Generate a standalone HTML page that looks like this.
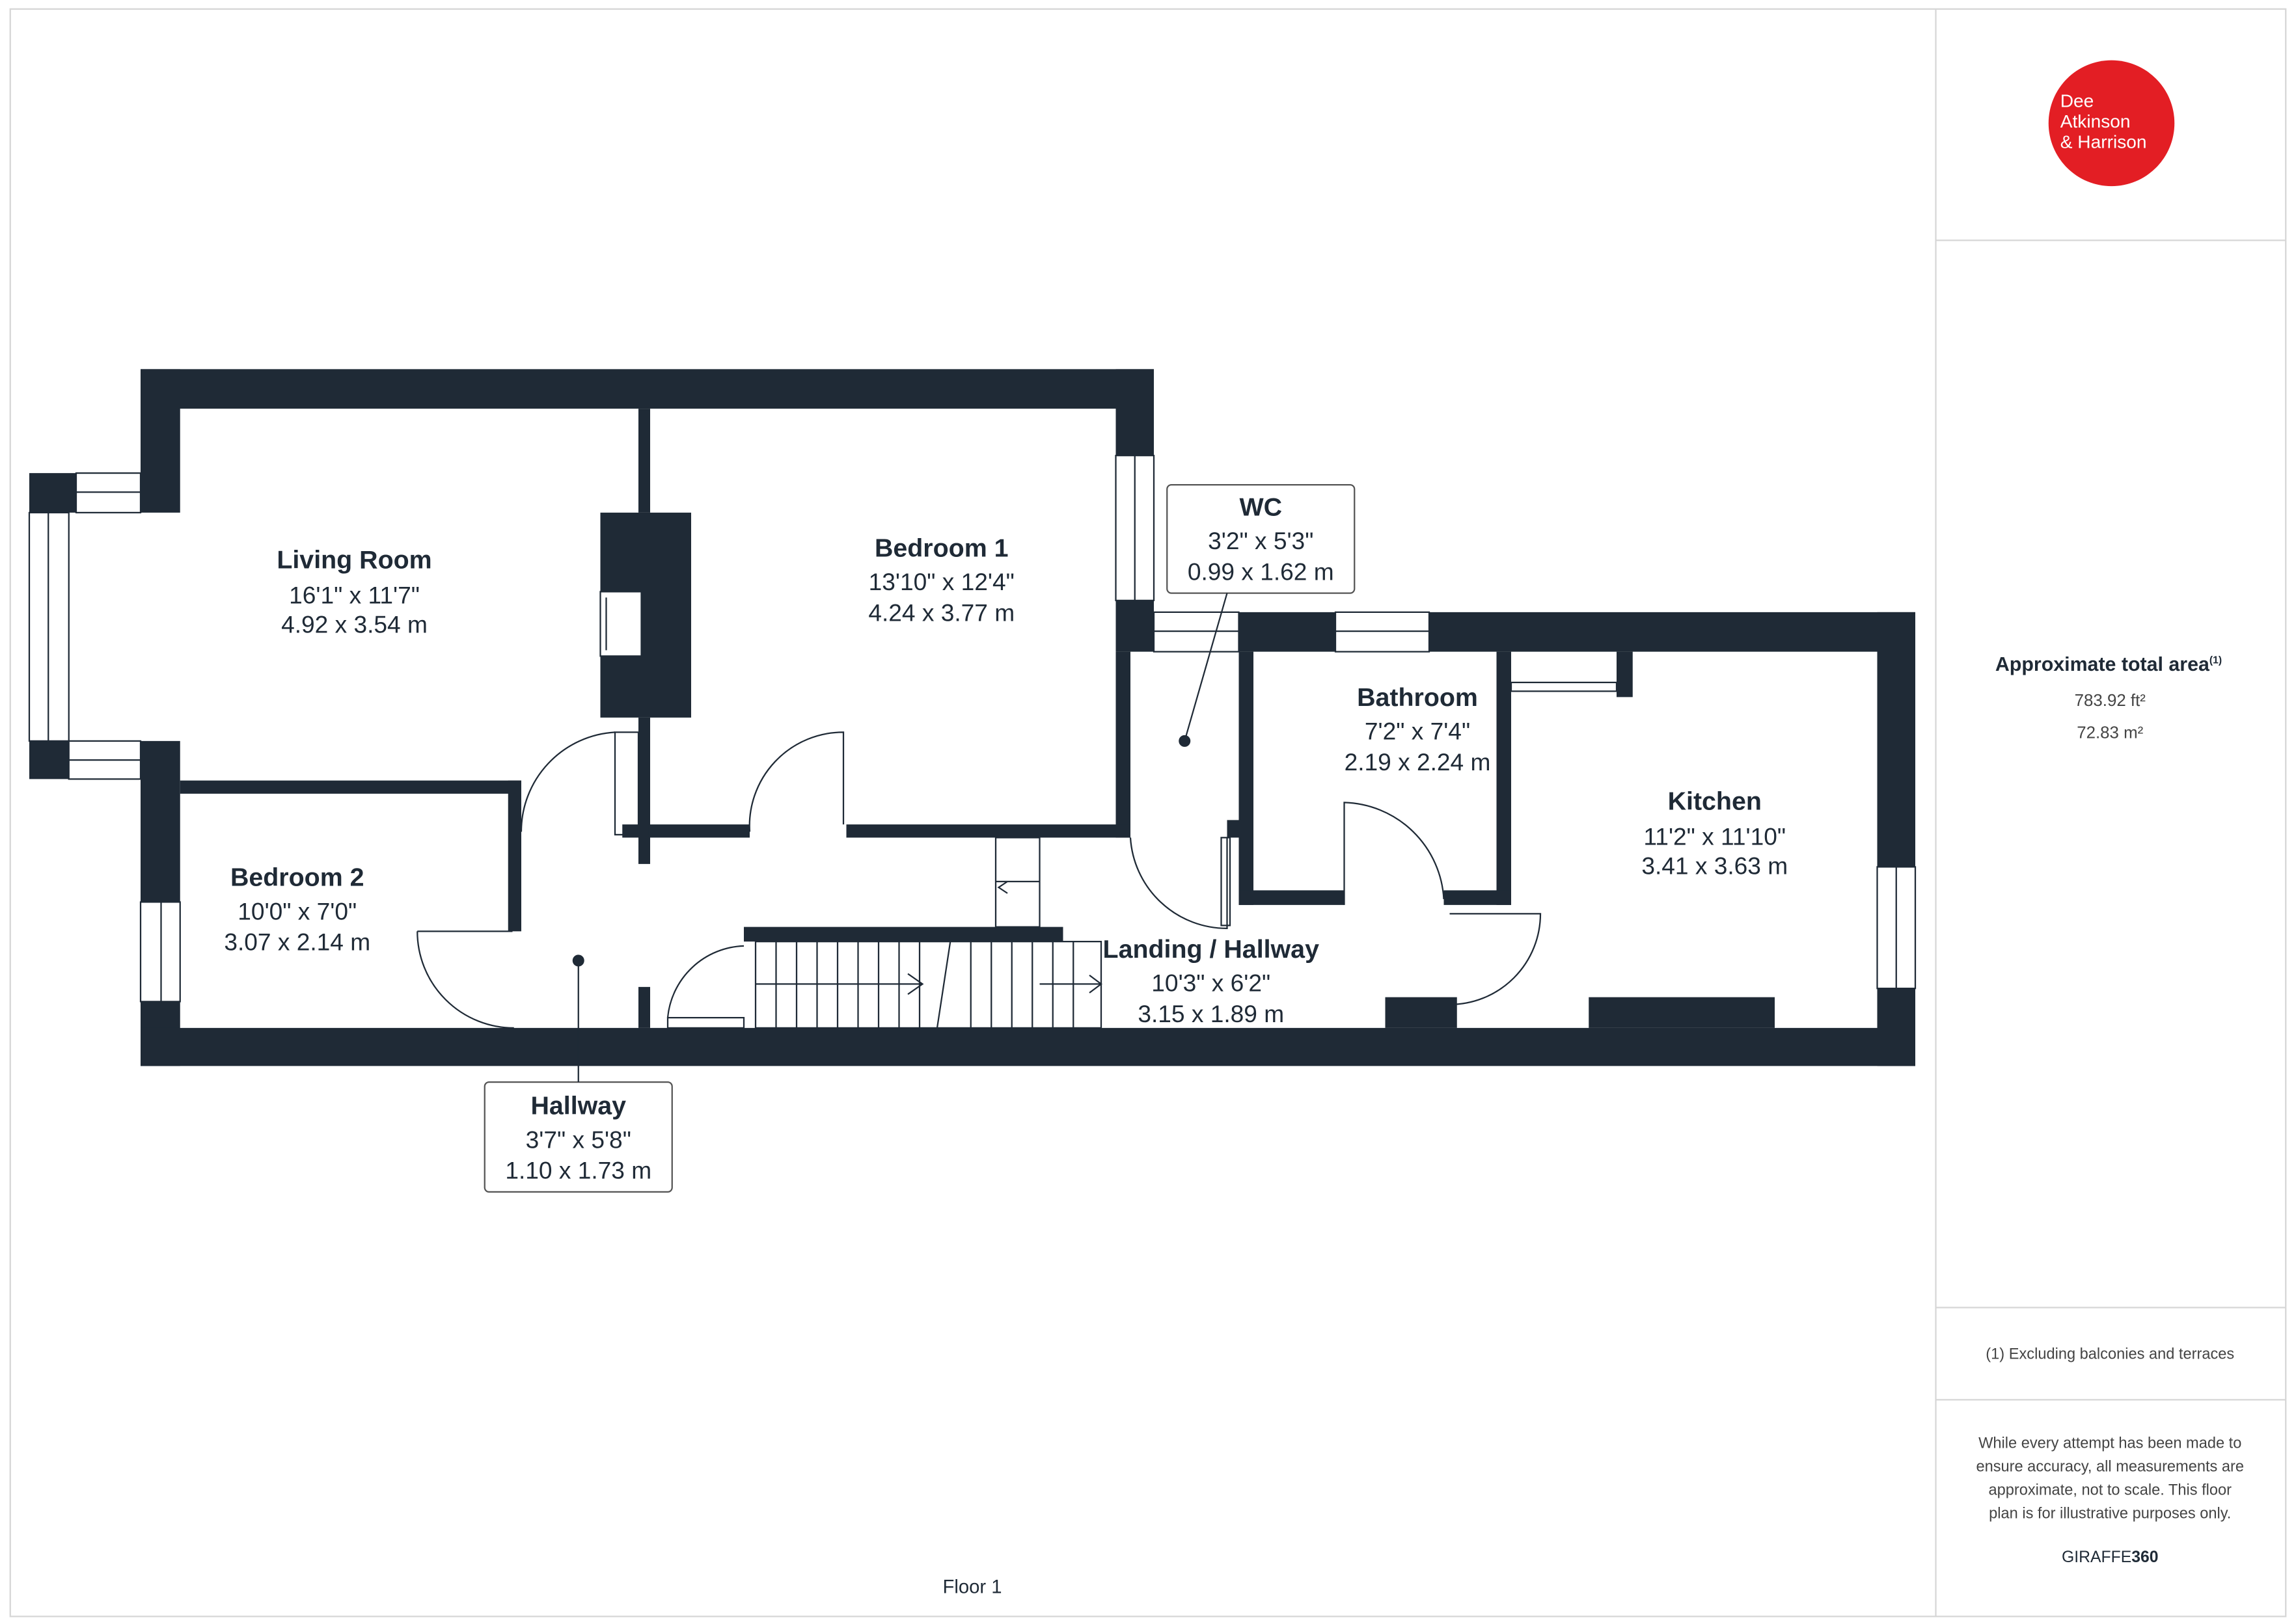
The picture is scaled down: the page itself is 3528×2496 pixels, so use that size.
<!DOCTYPE html>
<html><head><meta charset="utf-8"><style>
html,body{margin:0;padding:0;background:#fff}
svg{display:block}
text{font-family:"Liberation Sans",sans-serif;fill:#1f2a36}
</style></head><body>
<svg width="3528" height="2496" viewBox="0 0 1568 1109" xmlns="http://www.w3.org/2000/svg">
<rect x="0" y="0" width="1568" height="1109" fill="#fff"/>
<rect x="7" y="6" width="1554" height="1098" fill="none" stroke="#d6d6d6" stroke-width="1"/>
<line x1="1322" y1="6" x2="1322" y2="1104" stroke="#d6d6d6"/>
<line x1="1322" y1="164" x2="1561" y2="164" stroke="#d6d6d6"/>
<line x1="1322" y1="893" x2="1561" y2="893" stroke="#d6d6d6"/>
<line x1="1322" y1="956" x2="1561" y2="956" stroke="#d6d6d6"/>

<!-- logo -->
<circle cx="1442" cy="84" r="43" fill="#e31e24"/>
<text x="1407" y="73" font-size="12.5" style="fill:#fff">Dee</text>
<text x="1407" y="87" font-size="12.5" style="fill:#fff">Atkinson</text>
<text x="1407" y="101" font-size="12.5" style="fill:#fff">&amp; Harrison</text>

<text x="1440" y="458" font-size="13.5" font-weight="bold" text-anchor="middle">Approximate total area<tspan font-size="7" dy="-5">(1)</tspan></text>
<text x="1441" y="482" font-size="11.5" text-anchor="middle" style="fill:#444">783.92 ft²</text>
<text x="1441" y="504" font-size="11.5" text-anchor="middle" style="fill:#444">72.83 m²</text>
<text x="1441" y="928" font-size="10.5" text-anchor="middle" style="fill:#444">(1) Excluding balconies and terraces</text>
<g font-size="10.5" text-anchor="middle" style="fill:#444">
<text x="1441" y="989" style="fill:#444">While every attempt has been made to</text>
<text x="1441" y="1005" style="fill:#444">ensure accuracy, all measurements are</text>
<text x="1441" y="1021" style="fill:#444">approximate, not to scale. This floor</text>
<text x="1441" y="1037" style="fill:#444">plan is for illustrative purposes only.</text>
</g>
<text x="1441" y="1067" font-size="11" text-anchor="middle">GIRAFFE<tspan font-weight="bold">360</tspan></text>
<text x="664" y="1088" font-size="13" text-anchor="middle">Floor 1</text>

<!-- walls -->
<g fill="#1f2a36">
<rect x="96" y="252" width="692" height="27"/>
<rect x="96" y="252" width="27" height="98"/>
<rect x="20" y="323" width="32" height="27"/>
<rect x="20" y="506" width="27" height="26"/>
<rect x="96" y="506" width="27" height="110"/>
<rect x="96" y="684" width="27" height="44"/>
<rect x="96" y="702" width="1212" height="26"/>
<rect x="762" y="252" width="26" height="59"/>
<rect x="762" y="410" width="26" height="35"/>
<rect x="762" y="445" width="10" height="127"/>
<rect x="846" y="418" width="66" height="27"/>
<rect x="976" y="418" width="332" height="27"/>
<rect x="1282" y="418" width="26" height="174"/>
<rect x="1282" y="675" width="26" height="53"/>
<rect x="1022" y="445" width="10" height="173"/>
<rect x="846" y="445" width="10" height="173"/>
<rect x="846" y="608" width="72" height="10"/>
<rect x="986" y="608" width="46" height="10"/>
<rect x="436" y="279" width="8" height="71"/>
<rect x="410" y="350" width="62" height="140"/>
<rect x="436" y="490" width="8" height="100"/>
<rect x="443" y="563" width="69" height="9"/>
<rect x="578" y="563" width="194" height="9"/>
<rect x="123" y="533" width="233" height="9"/>
<rect x="347" y="533" width="9" height="103"/>
<rect x="436" y="674" width="8" height="28"/>
<rect x="508" y="633" width="218" height="10"/>
<rect x="1085" y="681" width="127" height="21"/>
<rect x="946" y="681" width="49" height="21"/>
<rect x="1104" y="445" width="11" height="31"/>
<rect x="838" y="560" width="8" height="12"/>
<rect x="425" y="563" width="11" height="9"/>
</g>
<rect x="410" y="404" width="28" height="44" fill="#fff" stroke="#1f2a36" stroke-width="1"/>
<path d="M414 408 L414 444" stroke="#1f2a36" stroke-width="1"/>

<!-- windows -->
<g fill="#fff" stroke="#1f2a36" stroke-width="1">
<rect x="52" y="323" width="44" height="27"/>
<rect x="20" y="350" width="27" height="156"/>
<rect x="47" y="506" width="49" height="26"/>
<rect x="96" y="616" width="27" height="68"/>
<rect x="762" y="311" width="26" height="99"/>
<rect x="788" y="418" width="58" height="27"/>
<rect x="912" y="418" width="64" height="27"/>
<rect x="1282" y="592" width="26" height="83"/>
<rect x="1032" y="466" width="72" height="6"/>
<rect x="680" y="572" width="30" height="61"/>
</g>
<g stroke="#1f2a36" stroke-width="1" fill="none">
<line x1="52" y1="336" x2="96" y2="336"/>
<line x1="33" y1="350" x2="33" y2="506"/>
<line x1="47" y1="519" x2="96" y2="519"/>
<line x1="110" y1="616" x2="110" y2="684"/>
<line x1="775" y1="311" x2="775" y2="410"/>
<line x1="788" y1="431" x2="846" y2="431"/>
<line x1="912" y1="431" x2="976" y2="431"/>
<line x1="1295" y1="592" x2="1295" y2="675"/>
<line x1="680" y1="602" x2="710" y2="602"/>
<!-- stairs -->
<rect x="516" y="643" width="236" height="59"/>
<path d="M530 643V702M544 643V702M558 643V702M572 643V702M586 643V702M600 643V702M614 643V702M628 643V702M663 643V702M677 643V702M691 643V702M705 643V702M719 643V702M733 643V702"/>
<path d="M649 643L640 702"/>
<path d="M516 672H630M620 665L630 672L620 679"/>
<path d="M710 672H752M744 666L752 672L744 678"/>
<path d="M688 602L682 606L688 610"/>
<!-- door frames -->
<rect x="420" y="500" width="16" height="70"/>
<rect x="456" y="695" width="52" height="7"/>
<rect x="834" y="572" width="6" height="60"/>
<!-- door arcs -->
<path d="M356 568 A68 68 0 0 1 420 500"/>
<path d="M512 568 A64 64 0 0 1 576 500 L576 563"/>
<path d="M285 636 L350 636 M285 636 A66 66 0 0 0 351 702"/>
<path d="M456 695 A54 54 0 0 1 508 646"/>
<path d="M772 572 A66 66 0 0 0 838 634 L838 572"/>
<path d="M918 618 L918 548 A70 70 0 0 1 986 614"/>
<path d="M990 624 L1052 624 A62 62 0 0 1 990 686"/>
</g>

<!-- labels -->
<g text-anchor="middle">
<text x="242" y="388" font-size="17.5" font-weight="bold">Living Room</text>
<text x="242" y="412" font-size="16.5">16'1" x 11'7"</text>
<text x="242" y="432" font-size="16.5">4.92 x 3.54 m</text>
<text x="643" y="380" font-size="17.5" font-weight="bold">Bedroom 1</text>
<text x="643" y="403" font-size="16.5">13'10" x 12'4"</text>
<text x="643" y="424" font-size="16.5">4.24 x 3.77 m</text>
<text x="203" y="605" font-size="17.5" font-weight="bold">Bedroom 2</text>
<text x="203" y="628" font-size="16.5">10'0" x 7'0"</text>
<text x="203" y="649" font-size="16.5">3.07 x 2.14 m</text>
<text x="968" y="482" font-size="17.5" font-weight="bold">Bathroom</text>
<text x="968" y="505" font-size="16.5">7'2" x 7'4"</text>
<text x="968" y="526" font-size="16.5">2.19 x 2.24 m</text>
<text x="1171" y="553" font-size="17.5" font-weight="bold">Kitchen</text>
<text x="1171" y="577" font-size="16.5">11'2" x 11'10"</text>
<text x="1171" y="597" font-size="16.5">3.41 x 3.63 m</text>
<text x="827" y="654" font-size="17.5" font-weight="bold">Landing / Hallway</text>
<text x="827" y="677" font-size="16.5">10'3" x 6'2"</text>
<text x="827" y="698" font-size="16.5">3.15 x 1.89 m</text>
</g>
<g fill="#fff" stroke="#555" stroke-width="1">
<rect x="797" y="331" width="128" height="74" rx="3"/>
<rect x="331" y="739" width="128" height="75" rx="3"/>
</g>
<line x1="809" y1="506" x2="838" y2="405" stroke="#1f2a36"/>
<circle cx="809" cy="506" r="4" fill="#1f2a36"/>
<line x1="395" y1="656" x2="395" y2="739" stroke="#1f2a36"/>
<circle cx="395" cy="656" r="4" fill="#1f2a36"/>
<g text-anchor="middle">
<text x="861" y="352" font-size="17.5" font-weight="bold">WC</text>
<text x="861" y="375" font-size="16.5">3'2" x 5'3"</text>
<text x="861" y="396" font-size="16.5">0.99 x 1.62 m</text>
<text x="395" y="761" font-size="17.5" font-weight="bold">Hallway</text>
<text x="395" y="784" font-size="16.5">3'7" x 5'8"</text>
<text x="395" y="805" font-size="16.5">1.10 x 1.73 m</text>
</g>
</svg>
</body></html>
